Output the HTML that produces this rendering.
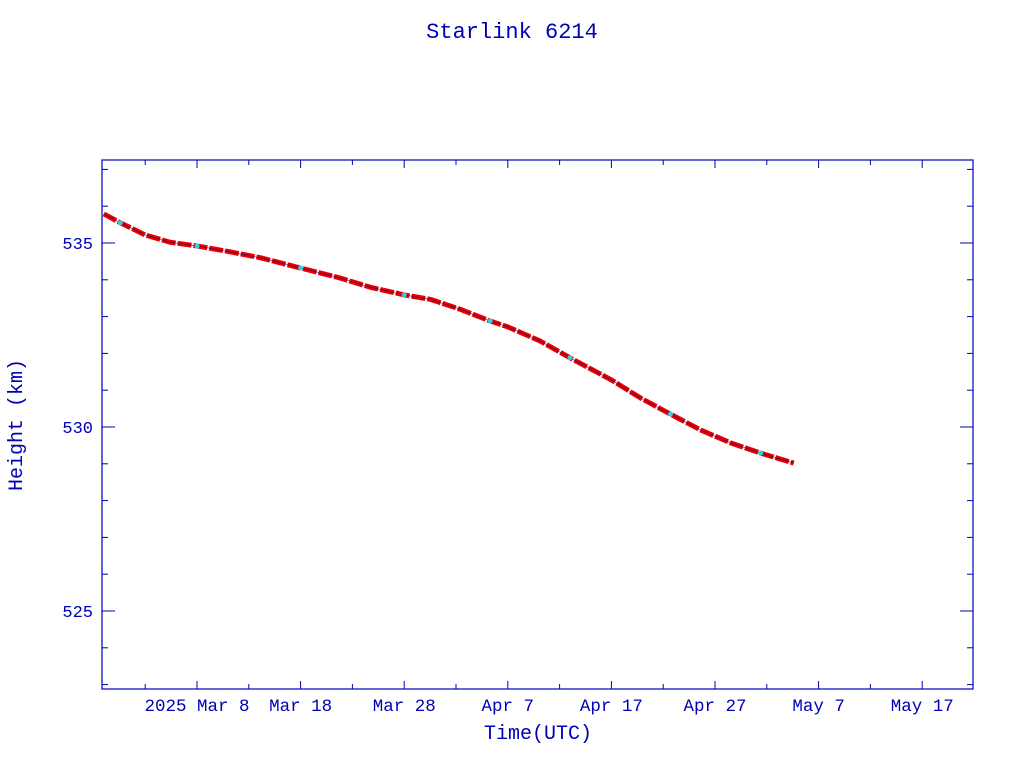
<!DOCTYPE html>
<html><head><meta charset="utf-8"><style>
body{margin:0;background:#fff;width:1024px;height:768px;overflow:hidden}
svg text{font-family:"Liberation Mono",monospace;fill:#0000b4}
</style></head><body>
<svg id="c" width="1024" height="768" xmlns="http://www.w3.org/2000/svg">
<text x="512" y="38" font-size="22" text-anchor="middle">Starlink 6214</text>
<rect x="102" y="160" width="871" height="529" fill="none" stroke="#0000b4" stroke-width="1.2"/>
<g id="ticks"></g>
<g id="series"></g>
<text x="538" y="739" font-size="20" text-anchor="middle">Time(UTC)</text>
<text transform="translate(22,425) rotate(-90)" font-size="20" text-anchor="middle">Height (km)</text>
</svg>
<script>
// days relative to 2025 Mar 8
const days=[-9,-7.4,-5,-2.6,0,3.2,6.1,10,13.8,16.7,20,22.5,25.4,28.3,30,33.1,36,40,42.8,45.7,48.6,51.5,54.4,57.6];
const heights=[535.79,535.55,535.22,535.02,534.92,534.76,534.6,534.32,534.05,533.8,533.59,533.47,533.2,532.88,532.72,532.34,531.88,531.28,530.79,530.35,529.92,529.57,529.29,529.02];
const xTickDays=[0,10,20,30,40,50,60,70];
const xTickLabels=["2025 Mar  8","Mar 18","Mar 28","Apr  7","Apr 17","Apr 27","May  7","May 17"];
const yTicks=[525,530,535];
const NS="http://www.w3.org/2000/svg";
const X=d=>197+d*10.36, Y=h=>243-(h-535)*36.8;
function mk(t,a,p){const e=document.createElementNS(NS,t);for(const k in a)e.setAttribute(k,a[k]);p.appendChild(e);return e;}
const tg=document.getElementById('ticks'), sg=document.getElementById('series');
const col="#0000b4";
for(let d=-5;d<=75;d+=5){const x=X(d);if(x<102||x>973)continue;const L=(d%10===0)?8:5;
 const t1=mk('line',{x1:x,x2:x,y1:689,y2:689-L,stroke:col},tg);
 const t2=mk('line',{x1:x,x2:x,y1:160,y2:160+L,stroke:col},tg);}
xTickDays.forEach((d,i)=>{const t=mk('text',{x:X(d),y:711,'font-size':17.5,'text-anchor':'middle','xml:space':'preserve'},tg);t.textContent=xTickLabels[i];
 });
for(let h=523;h<=537;h++){const y=Y(h);const L=(h%5===0)?13:6;
 const a=mk('line',{x1:102,x2:102+L,y1:y,y2:y,stroke:col},tg);
 const b=mk('line',{x1:973,x2:973-L,y1:y,y2:y,stroke:col},tg);}
yTicks.forEach(h=>{const t=mk('text',{x:93,y:Y(h)+6,'font-size':17,'text-anchor':'end'},tg);t.textContent=h;
 });
const pts=days.map((d,i)=>X(d)+','+Y(heights[i])).join(' ');
const band=mk('polyline',{points:pts,fill:'none',stroke:'#e80000','stroke-width':5,'stroke-linejoin':'round','stroke-dasharray':'14 2'},sg);

const ln=mk('polyline',{points:pts,fill:'none',stroke:'#000080','stroke-width':0.8,'stroke-opacity':0.6},sg);

days.forEach((d,i)=>{if(i%3!==1)return;const p=mk('circle',{cx:X(d),cy:Y(heights[i]),r:2.5,fill:'#30d0e0'},sg);
 });
</script>
</body></html>
